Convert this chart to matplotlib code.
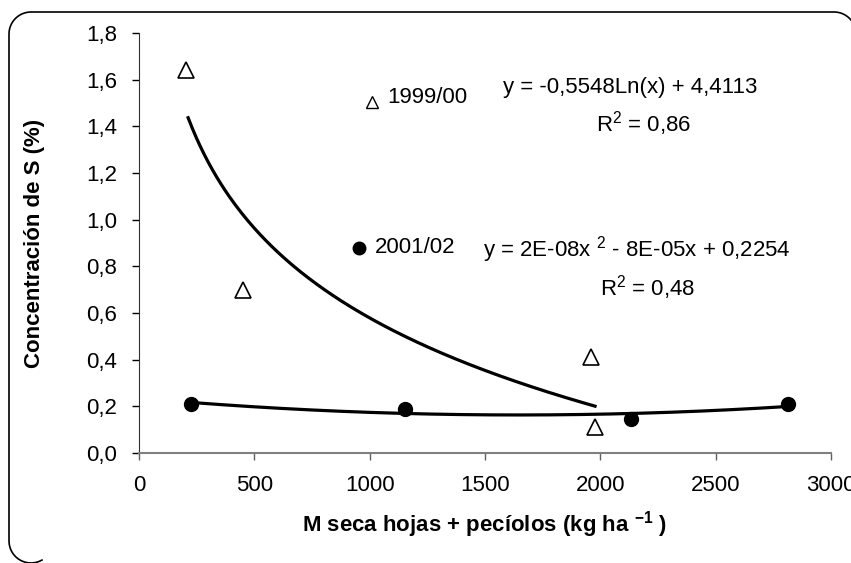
import numpy as np
import matplotlib
matplotlib.use("Agg")
import matplotlib.pyplot as plt
from matplotlib.lines import Line2D
from matplotlib.transforms import Affine2D
from matplotlib.ticker import FuncFormatter

plt.rcParams['font.family'] = ['Liberation Sans', 'DejaVu Sans']

# data
x_9900 = [205, 451, 1959, 1977]
y_9900 = [1.64, 0.70, 0.41, 0.11]
x_0102 = [225, 1153, 2132, 2813]
y_0102 = [0.21, 0.19, 0.145, 0.21]
log_coef = [-0.5548, 4.4113]   # y = a ln(x) + b
x_ticks = [0, 500, 1000, 1500, 2000, 2500, 3000]
y_ticks = [0.0, 0.2, 0.4, 0.6, 0.8, 1.0, 1.2, 1.4, 1.6, 1.8]

FS = 16
W, H = 851, 563
fig = plt.figure(figsize=(W/100, H/100), dpi=100)
px = Affine2D().scale(1.0/W, 1.0/H) + fig.transFigure

# rounded frame: only the visible part (left edge, top edge, two corners)
L, R, B, T, r = 9, 856, 0, 551, 22
def arc(cx, cy, a0, a1, n=14):
    t = np.radians(np.linspace(a0, a1, n))
    return [(cx + r*np.cos(a), cy + r*np.sin(a)) for a in t]
pts = []
pts += arc(L + r, B + r, 300, 180)
pts += arc(L + r, T - r, 180, 90)
pts += arc(R - r, T - r, 90, 38)
xs, ys = zip(*pts)
fig.add_artist(Line2D(xs, ys, transform=px, color='black', linewidth=1.2,
                      solid_joinstyle='round'))

ax = fig.add_axes([139/W, 110/H, 692/W, 420/H])

# trend lines
xl = np.linspace(213, max(x_9900), 200)
ax.plot(xl, log_coef[0]*np.log(xl) + log_coef[1], color='black', lw=2.3, zorder=2)
pc = np.polyfit(x_0102, y_0102, 2)
xp = np.linspace(min(x_0102), max(x_0102), 200)
ax.plot(xp, np.polyval(pc, xp), color='black', lw=2.3, zorder=2)

ax.plot(x_9900, y_9900, linestyle='none', marker='^', markersize=11,
        markerfacecolor='white', markeredgecolor='black', markeredgewidth=1.2, zorder=3)
ax.plot(x_0102, y_0102, linestyle='none', marker='o', markersize=10,
        color='black', zorder=3)

ax.set_xlim(0, 3000)
ax.set_ylim(0, 1.8)
ax.set_xticks(x_ticks)
ax.set_yticks(y_ticks)
ax.yaxis.set_major_formatter(FuncFormatter(lambda v, p: f"{v:.1f}".replace('.', ',')))
ax.xaxis.set_major_formatter(FuncFormatter(lambda v, p: f"{int(round(v))}"))
for s in ['top', 'right']:
    ax.spines[s].set_visible(False)
ax.spines['bottom'].set_color('#808080')
ax.spines['left'].set_color('#303030')
ax.spines['bottom'].set_linewidth(1.5)
ax.tick_params(axis='both', direction='out', length=5, width=1, labelsize=FS,
               colors='black')
ax.tick_params(axis='x', pad=11, color='#606060')
ax.tick_params(axis='y', pad=11)

ax.set_xlabel("M seca hojas + pecíolos (kg ha $^{\\mathregular{-1}}$ )", fontsize=FS,
              fontweight='bold', labelpad=9)
ax.set_ylabel("Concentración de S (%)", fontsize=FS, fontweight='bold', labelpad=29)

# annotations
ax.plot([1010], [1.505], marker='^', markersize=8, markerfacecolor='white',
        markeredgecolor='black', markeredgewidth=1.0, linestyle='none', clip_on=False)
ax.text(1075, 1.525, "1999/00", fontsize=FS, va='center', ha='left')
ax.text(1580, 1.565, "y = -0,5548Ln(x) + 4,4113", fontsize=FS, va='center', ha='left')
ax.text(1980, 1.41, "R$^{\\mathregular{2}}$ = 0,86", fontsize=FS, va='center', ha='left')
ax.plot([953], [0.88], marker='o', markersize=9, color='black', linestyle='none')
ax.text(1022, 0.88, "2001/02", fontsize=FS, va='center', ha='left')
ax.text(1490, 0.87, "y = 2E-08x $^{\\mathregular{2}}$ - 8E-05x + 0,2254", fontsize=FS,
        va='center', ha='left')
ax.text(2000, 0.71, "R$^{\\mathregular{2}}$ = 0,48", fontsize=FS, va='center', ha='left')

fig.savefig("out.png", dpi=100)
